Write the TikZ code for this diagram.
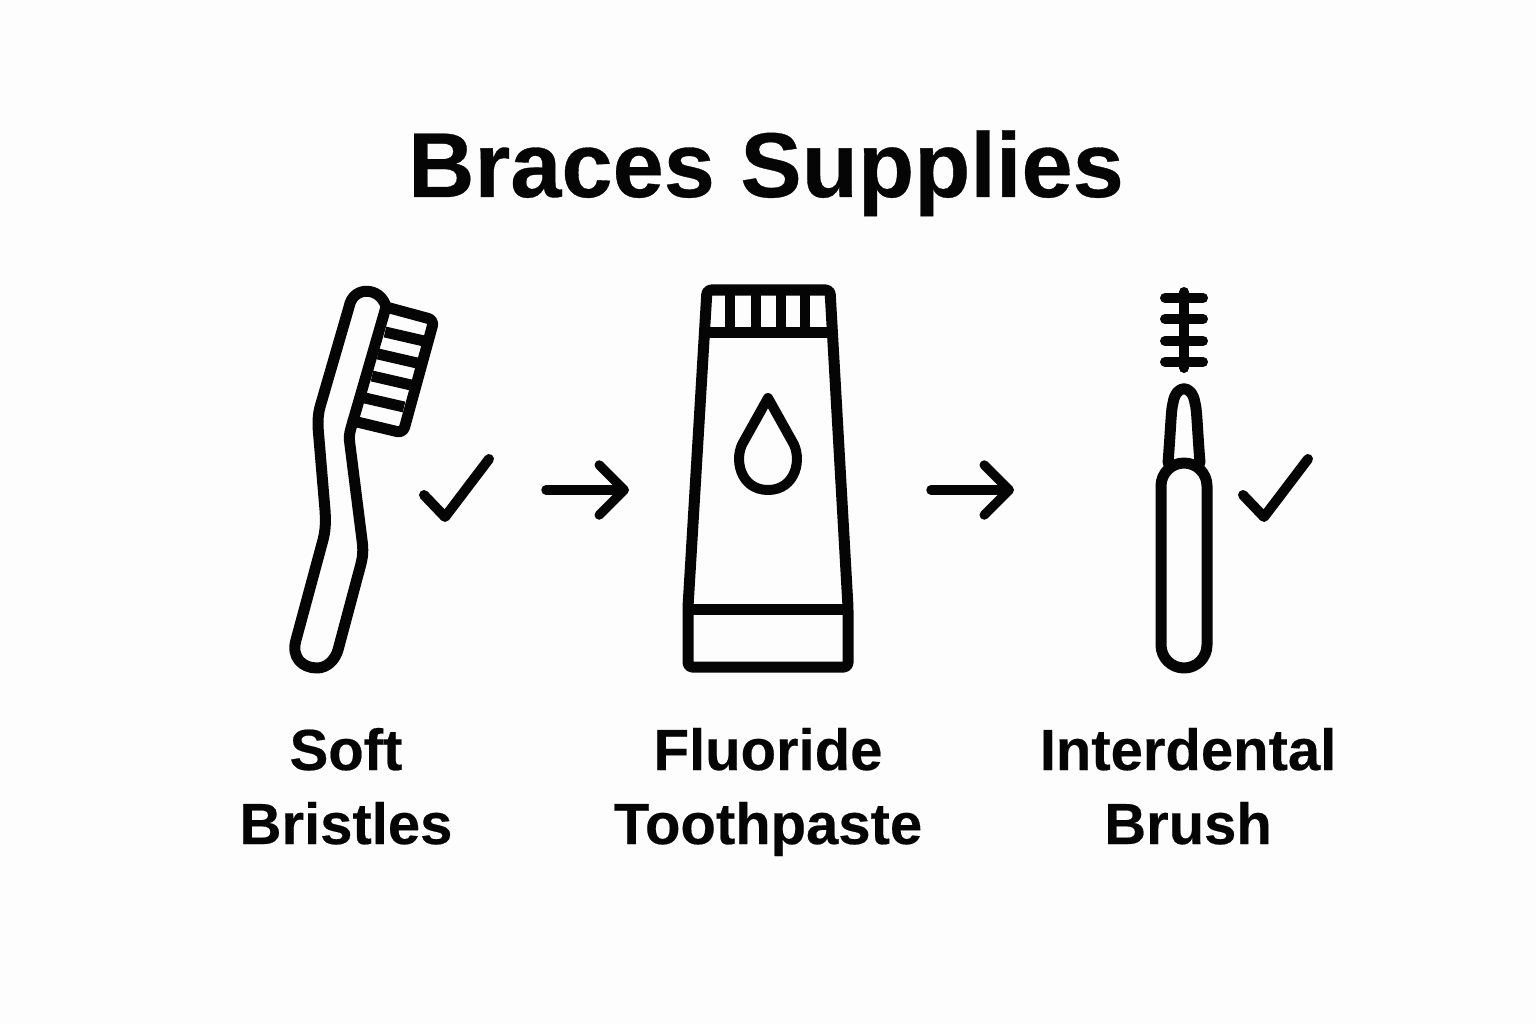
\documentclass[tikz,border=0pt]{standalone}
\usepackage{fontspec}
\setmainfont{Liberation Sans}[BoldFeatures={FakeBold=0.35}]
\usepackage{tikz}
\usetikzlibrary{arrows.meta, positioning}
\definecolor{paper}{HTML}{FDFDFD}
\definecolor{ink}{HTML}{050505}
\tikzset{
	icon/.style={draw=ink, line width=11pt, line join=round, line cap=round},
	thinicon/.style={icon, line width=10pt},
	step arrow/.style={draw=ink, line width=9.5pt, line cap=round, -{Straight Barb[length=25pt, width=50pt, round]}},
	caption/.style={text=ink, font=\bfseries\fontsize{58}{74}\selectfont, align=center, inner sep=0pt, anchor=base}
}
\newcommand{\tick}[1]{\draw[thinicon] (#1) ++(-21,-22) -- ++(21,22) -- ++(44,-58);}

\begin{document}
\begin{tikzpicture}[x=1pt, y=-1pt]
	\useasboundingbox[fill=paper] (0,0) rectangle (1536,1024);
	\node[text=ink, font=\bfseries\fontsize{92}{100}\selectfont, inner sep=0pt, anchor=base] (title) at (766,197) {Braces Supplies};

	% toothbrush
	\draw[icon] (386,307) .. controls (381,287) and (353,285) .. (349,307) -- (320,407) .. controls (318,415) and (318,420) .. (318,427) -- (325,510) .. controls (326,525) and (325,532) .. (323,540) -- (296,640) .. controls (291,657) and (302,668) .. (317,668) .. controls (327,668) and (335,660) .. (338,650) -- (358,575) .. controls (362,560) and (364,555) .. (362,540) -- (350,445) .. controls (349,438) and (349,435) .. (351,428) -- cycle;
	\draw[icon, rounded corners=6pt] (386,307) -- (434,320) -- (403,433) -- (353,421);
	\foreach \ya/\yb in {385/332, 378/354, 372/376, 365/398} {
		\pgfmathsetmacro{\xb}{\ya+39}
		\pgfmathsetmacro{\yc}{\yb+9}
		\draw[icon, line cap=butt] (\ya,\yb) -- (\xb,\yc);
	}
	\coordinate (brushtick) at (445,517);
	\tick{brushtick}

	% toothpaste
	\draw[icon, rounded corners=4pt] (707,290) -- (830,290) -- (848,607) -- (848,667) -- (688,667) -- (688,607) -- cycle;
	\draw[icon, line cap=butt] (703,332) -- (833,332);
	\draw[icon, line cap=butt] (688,609) -- (848,609);
	\foreach \x in {730,756,781,805} {
		\draw[icon, line cap=butt, line width=10pt] (\x,290) -- (\x,332);
	}
	\draw[thinicon] (768,398) -- (744,441) .. controls (733,458) and (740,490) .. (768,490) .. controls (796,490) and (803,458) .. (792,441) -- cycle;

	% interdental brush
	\draw[thinicon] (1184,292) -- (1184,368);
	\foreach \y in {298,319,341,362} {
		\draw[thinicon] (1165,\y) -- (1203,\y);
	}
	\draw[icon, rounded corners=23pt] (1161,463) rectangle (1207,668);
	\draw[icon] (1168,463) .. controls (1171,425) and (1171,410) .. (1173,403) .. controls (1176,384) and (1192,384) .. (1195,403) .. controls (1197,410) and (1197,425) .. (1200,463);
	\coordinate (pricktick) at (1264,517);
	\tick{pricktick}

	% arrows between the supplies
	\coordinate (a1) at (546,490);
	\coordinate (a2) at (629,490);
	\coordinate (b1) at (931,490);
	\coordinate (b2) at (1014,490);
	\draw[step arrow] (a1) -- (a2);
	\draw[step arrow] (b1) -- (b2);

	\node[caption] (bristles) at (346,844) {Soft\\Bristles};
	\node[caption] (paste) at (768,844) {Fluoride\\Toothpaste};
	\node[caption] (brush) at (1188,844) {Interdental\\Brush};
\end{tikzpicture}
\end{document}
